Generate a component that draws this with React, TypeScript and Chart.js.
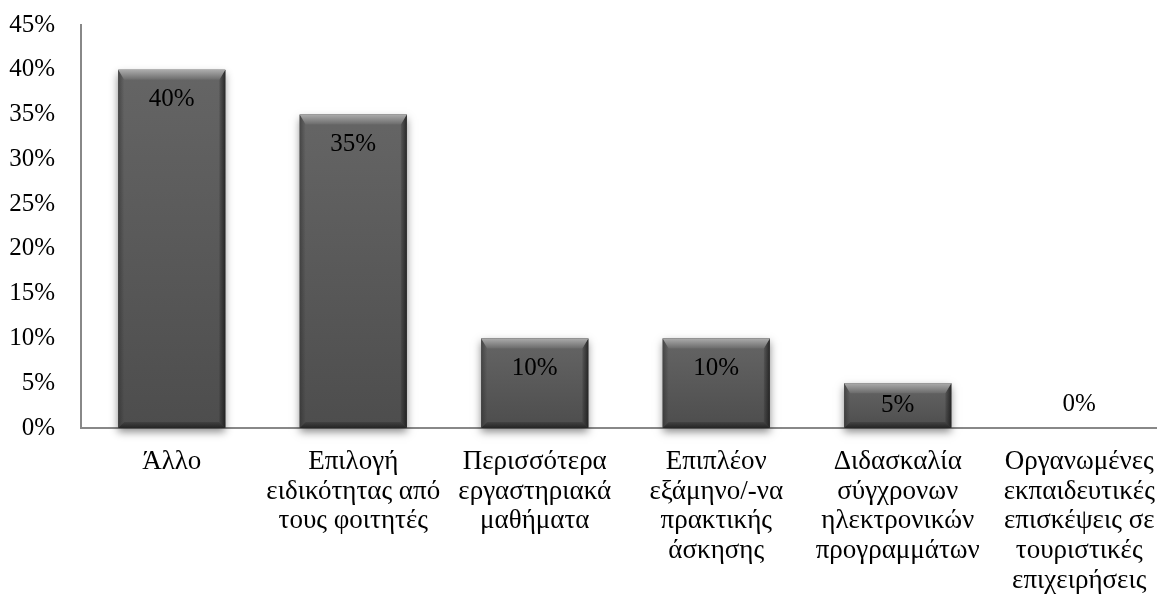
import React, { useEffect, useRef } from "react";
import { Chart, registerables } from "chart.js";

Chart.register(...registerables);

const categories: string[][] = [
  ["Άλλο"],
  ["Επιλογή", "ειδικότητας από", "τους φοιτητές"],
  ["Περισσότερα", "εργαστηριακά", "μαθήματα"],
  ["Επιπλέον", "εξάμηνο/-να", "πρακτικής", "άσκησης"],
  ["Διδασκαλία", "σύγχρονων", "ηλεκτρονικών", "προγραμμάτων"],
  ["Οργανωμένες", "εκπαιδευτικές", "επισκέψεις σε", "τουριστικές", "επιχειρήσεις"],
];
const values: number[] = [40, 35, 10, 10, 5, 0];
const yMin = 0;
const yMax = 45;
const yStep = 5;

const FONT = "'Liberation Serif', 'Times New Roman', serif";

const bevelBars = {
  id: "bevelBars",
  afterDatasetsDraw(chart: any) {
    const ctx: CanvasRenderingContext2D = chart.ctx;
    const meta = chart.getDatasetMeta(0);
    meta.data.forEach((bar: any, i: number) => {
      const v = values[i];
      const L = bar.x - bar.width / 2;
      const R = bar.x + bar.width / 2;
      const T = Math.min(bar.y, bar.base);
      const B = Math.max(bar.y, bar.base);
      if (v > 0) {
        const h = B - T;
        const bt = Math.min(10, h / 2);
        const bs = Math.min(6, h / 2);
        ctx.save();
        ctx.shadowColor = "rgba(0,0,0,0.45)";
        ctx.shadowBlur = 8;
        ctx.shadowOffsetY = 4;
        ctx.fillStyle = "#555";
        ctx.fillRect(L, T, R - L, h);
        ctx.restore();
        const g = ctx.createLinearGradient(0, T, 0, B);
        g.addColorStop(0, "#656565");
        g.addColorStop(1, "#4d4d4d");
        ctx.fillStyle = g;
        ctx.fillRect(L, T, R - L, h);
        const gl = ctx.createLinearGradient(L, 0, L + bs, 0);
        gl.addColorStop(0, "rgba(40,40,40,0.5)");
        gl.addColorStop(1, "rgba(40,40,40,0)");
        ctx.fillStyle = gl;
        ctx.beginPath();
        ctx.moveTo(L, T);
        ctx.lineTo(L + bs, T + bt);
        ctx.lineTo(L + bs, B - bs);
        ctx.lineTo(L, B);
        ctx.closePath();
        ctx.fill();
        const gr = ctx.createLinearGradient(R, 0, R - bs, 0);
        gr.addColorStop(0, "rgba(20,20,20,0.75)");
        gr.addColorStop(1, "rgba(20,20,20,0.15)");
        ctx.fillStyle = gr;
        ctx.beginPath();
        ctx.moveTo(R, T);
        ctx.lineTo(R, B);
        ctx.lineTo(R - bs, B - bs);
        ctx.lineTo(R - bs, T + bt);
        ctx.closePath();
        ctx.fill();
        const gb = ctx.createLinearGradient(0, B, 0, B - bs);
        gb.addColorStop(0, "rgba(20,20,20,0.7)");
        gb.addColorStop(1, "rgba(20,20,20,0.2)");
        ctx.fillStyle = gb;
        ctx.beginPath();
        ctx.moveTo(L, B);
        ctx.lineTo(R, B);
        ctx.lineTo(R - bs, B - bs);
        ctx.lineTo(L + bs, B - bs);
        ctx.closePath();
        ctx.fill();
        const gt = ctx.createLinearGradient(0, T, 0, T + bt);
        gt.addColorStop(0, "#acacac");
        gt.addColorStop(1, "#6b6b6b");
        ctx.fillStyle = gt;
        ctx.beginPath();
        ctx.moveTo(L, T);
        ctx.lineTo(R, T);
        ctx.lineTo(R - bs, T + bt);
        ctx.lineTo(L + bs, T + bt);
        ctx.closePath();
        ctx.fill();
      }
      ctx.save();
      ctx.fillStyle = "#000";
      ctx.font = `25px ${FONT}`;
      ctx.textAlign = "center";
      ctx.textBaseline = "middle";
      let cy: number;
      if (v > 0) {
        cy = Math.min(T + 30, (T + B) / 2);
      } else {
        cy = B - 24;
      }
      ctx.fillText(`${v}%`, bar.x, cy);
      ctx.restore();
    });
  },
};

export default function App() {
  const ref = useRef<HTMLCanvasElement | null>(null);
  useEffect(() => {
    if (!ref.current) return;
    const chart = new Chart(ref.current, {
      type: "bar",
      data: {
        labels: categories,
        datasets: [
          {
            data: values,
            backgroundColor: "rgba(0,0,0,0)",
            borderWidth: 0,
            barPercentage: 0.59,
            categoryPercentage: 1,
          },
        ],
      },
      options: {
        animation: false,
        responsive: false,
        maintainAspectRatio: false,
        layout: { padding: { top: 25, left: 0, right: 0, bottom: 0 } },
        plugins: {
          legend: { display: false },
          tooltip: { enabled: false },
        },
        scales: {
          x: {
            offset: true,
            grid: { display: false, drawTicks: false },
            border: { display: true, color: "#888888", width: 2 },
            ticks: {
              color: "#000",
              font: { family: FONT, size: 27, lineHeight: 1.1 },
              padding: 19,
              maxRotation: 0,
              minRotation: 0,
              autoSkip: false,
            },
            afterFit: (s: any) => {
              s.height = 168;
              s.paddingLeft = 0;
              s.paddingRight = 0;
            },
          },
          y: {
            min: yMin,
            max: yMax,
            grid: { display: false, drawTicks: false },
            border: { display: true, color: "#888888", width: 2 },
            ticks: {
              stepSize: yStep,
              color: "#000",
              font: { family: FONT, size: 25 },
              padding: 26,
              callback: (v: any) => `${v}%`,
            },
            afterFit: (s: any) => {
              s.width = 81;
              s.paddingTop = 0;
              s.paddingBottom = 0;
            },
          },
        },
      },
      plugins: [bevelBars],
    });
    return () => chart.destroy();
  }, []);
  return (
    <div
      style={{
        position: "fixed",
        left: 0,
        top: 0,
        width: 1157,
        height: 596,
        overflow: "hidden",
        background: "#fff",
      }}
    >
      <canvas ref={ref} width={1170} height={596} style={{ display: "block" }} />
    </div>
  );
}
